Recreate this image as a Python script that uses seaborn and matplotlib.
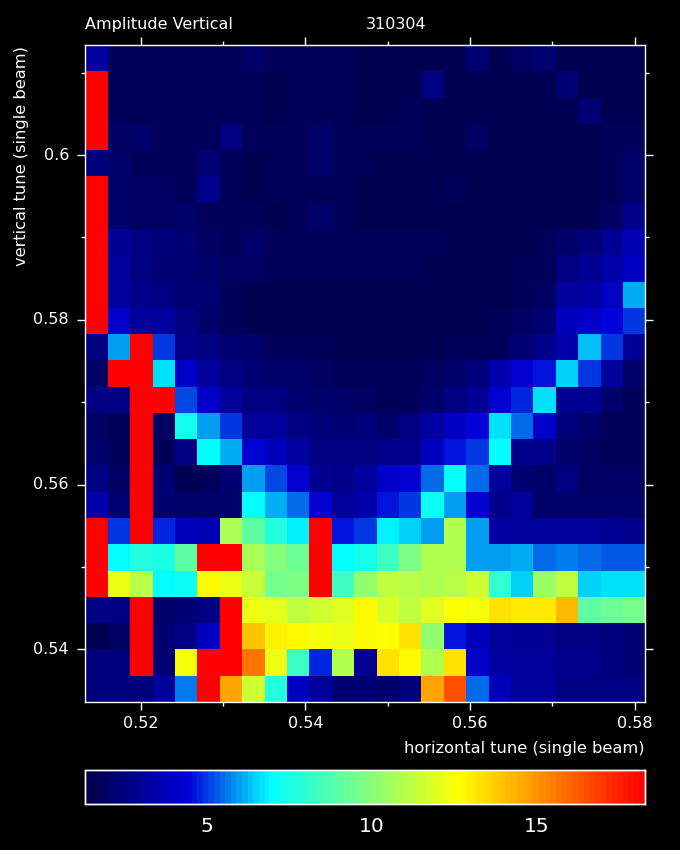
import numpy as np
import matplotlib.pyplot as plt
import seaborn as sns
from matplotlib.colors import LinearSegmentedColormap

R = 18.3  # saturated cells

amp_rows = [
    [3.2, 1.8, 1.8, 1.8, 1.7, 1.7, 1.7, 2.0, 1.7, 1.7, 1.7, 1.7, 1.6, 1.6, 1.6, 1.6, 1.6, 2.2, 1.6, 1.9, 2.2, 1.5, 1.6, 1.6, 1.6],
    [R, 1.8, 1.8, 1.8, 1.7, 1.7, 1.7, 1.7, 1.5, 1.7, 1.7, 1.7, 1.6, 1.6, 1.6, 2.5, 1.6, 1.6, 1.6, 1.6, 1.6, 2.2, 1.6, 1.6, 1.6],
    [R, 1.8, 1.8, 1.8, 1.7, 1.7, 1.7, 1.7, 1.6, 1.7, 1.7, 1.7, 1.6, 1.6, 1.8, 1.6, 1.6, 1.6, 1.6, 1.6, 1.6, 1.6, 2.3, 1.6, 1.6],
    [R, 1.9, 2.0, 1.8, 1.7, 1.7, 2.5, 1.7, 1.7, 1.7, 2.1, 1.7, 1.8, 1.8, 1.7, 1.6, 1.6, 1.9, 1.6, 1.6, 1.6, 1.6, 1.6, 1.8, 1.7],
    [2.4, 2.0, 1.8, 1.8, 1.8, 2.2, 1.7, 1.6, 1.7, 1.7, 2.0, 1.7, 1.8, 1.6, 1.6, 1.6, 1.6, 1.6, 1.6, 1.6, 1.6, 1.6, 1.6, 1.7, 2.0],
    [R, 2.0, 1.9, 1.9, 1.8, 2.7, 1.7, 1.6, 1.7, 1.7, 1.7, 1.7, 1.6, 1.6, 1.6, 1.6, 1.7, 1.6, 1.6, 1.6, 1.6, 1.6, 1.6, 1.7, 2.0],
    [R, 2.0, 1.9, 1.9, 2.0, 1.8, 1.7, 1.7, 1.6, 1.7, 2.0, 1.7, 1.6, 1.6, 1.6, 1.6, 1.6, 1.6, 1.6, 1.6, 1.6, 1.6, 1.6, 1.9, 2.7],
    [R, 2.9, 2.5, 2.4, 2.3, 1.9, 1.8, 2.0, 1.7, 1.7, 1.7, 1.7, 1.7, 1.7, 1.7, 1.7, 1.6, 1.6, 1.6, 1.6, 1.7, 2.1, 2.4, 2.9, 3.6],
    [R, 3.0, 2.5, 2.3, 2.2, 2.1, 1.9, 1.9, 1.7, 1.7, 1.7, 1.7, 1.7, 1.7, 1.7, 1.6, 1.6, 1.6, 1.6, 1.7, 1.8, 2.5, 2.9, 3.4, 4.0],
    [R, 3.1, 2.7, 2.5, 2.2, 2.2, 1.8, 1.6, 1.6, 1.6, 1.6, 1.6, 1.5, 1.5, 1.5, 1.5, 1.5, 1.5, 1.5, 1.8, 1.9, 3.0, 3.3, 3.9, 6.1],
    [R, 4.1, 3.1, 3.0, 2.6, 2.0, 1.7, 1.6, 1.6, 1.6, 1.6, 1.6, 1.5, 1.5, 1.5, 1.5, 1.5, 1.5, 1.7, 1.9, 2.3, 3.8, 4.1, 4.4, 5.0],
    [2.5, 6.0, R, 4.9, 2.8, 2.5, 2.3, 2.1, 1.8, 1.8, 1.7, 1.6, 1.6, 1.6, 1.6, 1.6, 1.7, 1.7, 1.8, 2.3, 2.7, 3.4, 6.3, 4.9, 2.9],
    [1.9, R, R, 6.7, 4.1, 3.1, 2.6, 2.2, 2.1, 2.0, 1.9, 1.8, 1.7, 1.7, 1.7, 1.9, 2.0, 2.4, 3.5, 4.2, 4.6, 6.4, 4.9, 3.0, 2.0],
    [2.5, 2.5, R, R, 5.1, 4.1, 3.0, 2.6, 2.6, 2.2, 2.1, 2.0, 1.9, 1.7, 1.7, 2.0, 2.6, 2.9, 4.2, 4.7, 6.7, 2.9, 2.9, 2.1, 1.8],
    [1.9, 1.8, R, 1.9, 7.4, 5.9, 5.0, 3.1, 3.0, 2.6, 2.4, 2.3, 2.4, 2.1, 2.5, 3.2, 4.0, 4.5, 6.6, 5.4, 4.1, 2.4, 2.1, 1.8, 1.7],
    [2.0, 1.8, R, 1.7, 2.5, 7.0, 6.1, 4.2, 3.7, 3.2, 2.6, 2.5, 2.5, 2.7, 2.8, 4.0, 4.6, 5.0, 7.0, 2.8, 2.8, 2.0, 1.9, 1.8, 1.8],
    [2.6, 1.9, R, 2.2, 1.5, 1.8, 2.3, 6.0, 5.1, 4.3, 2.9, 2.7, 3.0, 4.1, 4.3, 5.4, 7.0, 5.4, 3.0, 2.3, 2.0, 2.5, 1.9, 1.9, 1.9],
    [3.4, 2.3, R, 2.3, 2.1, 2.0, 2.0, 7.0, 6.1, 5.4, 4.2, 3.0, 3.4, 4.6, 5.0, 7.2, 5.9, 4.2, 2.8, 3.0, 2.1, 2.1, 2.0, 2.0, 2.0],
    [R, 5.0, R, 4.7, 3.7, 3.6, 10.8, 9.0, 7.7, 6.9, R, 4.6, 5.0, 6.8, 6.4, 5.9, 10.9, 5.9, 3.2, 3.1, 3.0, 3.0, 3.0, 2.9, 2.8],
    [R, 7.0, 7.6, 7.5, 9.0, R, R, 10.8, 9.8, 9.4, R, 7.0, 7.4, 8.4, 9.7, 10.9, 10.9, 6.0, 5.9, 6.1, 5.4, 5.7, 5.4, 5.3, 5.3],
    [R, 12.3, 11.1, 7.0, 7.2, 12.8, 12.3, 11.4, 9.6, 9.7, R, 8.4, 10.2, 11.3, 11.0, 10.9, 11.0, 11.6, 8.0, 6.5, 10.4, 11.2, 6.4, 6.7, 6.7],
    [2.5, 2.5, R, 2.1, 2.2, 2.6, R, 12.2, 12.1, 11.2, 11.5, 12.0, 12.7, 11.8, 11.3, 12.0, 12.6, 12.4, 13.3, 13.1, 13.1, 14.2, 9.0, 9.4, 9.6],
    [1.5, 1.9, R, 2.2, 2.6, 4.0, R, 13.9, 12.9, 12.8, 12.4, 12.3, 12.8, 12.6, 13.3, 10.2, 4.6, 3.7, 3.0, 2.9, 2.9, 2.6, 2.5, 2.4, 2.2],
    [2.4, 2.4, R, 2.2, 12.4, R, R, 15.7, 12.2, 8.1, 4.7, 10.9, 2.9, 13.3, 12.8, 10.9, 13.3, 4.1, 3.3, 3.1, 3.0, 2.8, 2.7, 2.4, 2.3],
    [2.4, 2.4, 2.4, 3.0, 5.7, R, 14.7, 11.5, 7.6, 4.0, 3.0, 2.2, 2.2, 2.1, 2.4, 14.6, 16.5, 5.4, 3.7, 3.1, 3.1, 2.6, 2.6, 2.6, 2.6],
]

x_limits = [0.51326, 0.5813]
y_limits = [0.5336, 0.61336]
major_tunes = [0.52, 0.54, 0.56, 0.58]
minor_tunes = [0.53, 0.55, 0.57]
major_vtunes = [0.54, 0.56, 0.58, 0.6]
minor_vtunes = [0.55, 0.57, 0.59, 0.61]
major_vtune_labels = ['0.54', '0.56', '0.58', '0.6']
amp_limits = [1.3, 18.3]
cbar_major = [5, 10, 15]
cbar_minor = [2, 3, 4, 6, 7, 8, 9, 11, 12, 13, 14, 16, 17, 18]

sns.set_theme(style='dark', rc={'figure.facecolor': 'black', 'axes.facecolor': 'black', 'savefig.facecolor': 'black',
                                'text.color': 'white', 'xtick.color': 'white', 'ytick.color': 'white',
                                'axes.edgecolor': 'white', 'axes.labelcolor': 'white'})
plt.rcParams['font.family'] = ['DejaVu Sans']

pgplot = LinearSegmentedColormap.from_list(
    'pgplot',
    [(0.0, '#00004a'), (0.18, '#0000d8'), (0.33, '#00ffff'), (0.5, '#80ff80'), (0.67, '#ffff00'), (1.0, '#ff0000')],
    N=100)


def xpos(t):
    return (t - x_limits[0]) / (x_limits[1] - x_limits[0]) * 25


def ypos(t):
    return (y_limits[1] - t) / (y_limits[1] - y_limits[0]) * 25


fig = plt.figure(figsize=(6.8, 8.5), dpi=100)
ax = fig.add_axes([85.3 / 680, 148 / 850, 560 / 680, 657 / 850])
cax = fig.add_axes([85.3 / 680, 46 / 850, 560 / 680, 34 / 850])

sns.heatmap(np.array(amp_rows), ax=ax, cmap=pgplot, vmin=amp_limits[0], vmax=amp_limits[1],
            cbar_ax=cax, cbar_kws={'orientation': 'horizontal'})

for s in ax.spines.values():
    s.set_visible(True)
    s.set_color('white')
    s.set_linewidth(1.0)

ax.set_xticks([xpos(t) for t in major_tunes])
ax.set_xticklabels([str(t) for t in major_tunes], rotation=0)
ax.set_xticks([xpos(t) for t in minor_tunes], minor=True)
ax.set_yticks([ypos(t) for t in major_vtunes])
ax.set_yticklabels(major_vtune_labels, rotation=0, va='center')
ax.set_yticks([ypos(t) for t in minor_vtunes], minor=True)
ax.tick_params(which='major', length=5.8, width=1, direction='out', top=True, right=True, bottom=True, left=True,
               labelsize=11.5, color='white')
ax.tick_params(which='major', axis='x', pad=4.5)
ax.tick_params(which='major', axis='y', pad=6)
ax.tick_params(which='minor', length=2.9, width=1, direction='out', top=True, right=True, bottom=True, left=True,
               color='white')

cax.set_xticks(cbar_major)
cax.set_xticklabels(['5', '10', '15'], fontsize=14.5)
cax.set_xticks(cbar_minor, minor=True)
cax.tick_params(which='major', length=8, width=1, direction='in', top=True, bottom=True, color='white', pad=9)
cax.tick_params(which='minor', length=3.6, width=1, direction='in', top=True, bottom=True, color='white')
for s in cax.spines.values():
    s.set_visible(True)
    s.set_color('white')
    s.set_linewidth(1.0)

fig.text(85 / 680, 1 - 29 / 850, 'Amplitude Vertical', fontsize=11.5, ha='left', va='baseline', color='white')
fig.text(366 / 680, 1 - 29 / 850, '310304', fontsize=11.5, ha='left', va='baseline', color='white')
fig.text(645 / 680, 1 - 753 / 850, 'horizontal tune (single beam)', fontsize=11.7, ha='right', va='baseline', color='white')
fig.text(22 / 680, 1 - 46 / 850, 'vertical tune (single beam)', fontsize=11.7, ha='center', va='top', rotation=90, color='white')

fig.savefig('out.png', dpi=100)
